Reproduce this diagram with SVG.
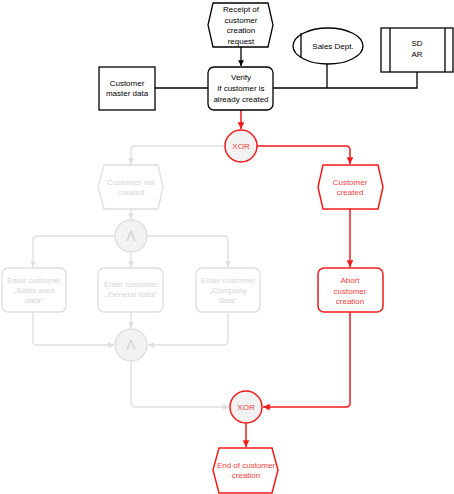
<svg xmlns="http://www.w3.org/2000/svg" width="454" height="494" viewBox="0 0 454 494">
<style>
text{font-family:"Liberation Sans",Arial,sans-serif;font-size:8px;text-anchor:middle}
.k{fill:#fff;stroke:#000;stroke-width:1.3}
.kl{fill:none;stroke:#000;stroke-width:1.3}
.r{fill:#fff;stroke:#f21b1b;stroke-width:1.5}
.rl{fill:none;stroke:#f21b1b;stroke-width:1.5}
.g{fill:#fff;stroke:#dedede;stroke-width:1.3}
.gl{fill:none;stroke:#dedede;stroke-width:1.3}
.tk{fill:#000}
.tr{fill:#f24040}
.tg{fill:#d6d6d6}
.and{font-size:14px;fill:#d0d0d0}
</style>
<defs>
<marker id="ak" viewBox="0 0 10 10" refX="10" refY="5" markerWidth="4.5" markerHeight="4.5" orient="auto"><path d="M0,0 L10,5 L0,10 z" fill="#000"/></marker>
<marker id="ar" viewBox="0 0 10 10" refX="10" refY="5" markerWidth="4.5" markerHeight="4.5" orient="auto"><path d="M0,0 L10,5 L0,10 z" fill="#f21b1b"/></marker>
<marker id="ag" viewBox="0 0 10 10" refX="10" refY="5" markerWidth="4.5" markerHeight="4.5" orient="auto"><path d="M0,0 L10,5 L0,10 z" fill="#dedede"/></marker>
</defs>
<g id="connectors">
<path class="kl" d="M241,47 V66" marker-end="url(#ak)"/>
<path class="kl" d="M155,88 H208"/>
<path class="kl" d="M273,88 H417 V72"/>
<path class="kl" d="M327,88 V64"/>
<path class="rl" d="M241,110 V129" marker-end="url(#ar)"/>
<path class="gl" d="M225,146 H135 Q131,146 131,150 V164" marker-end="url(#ag)"/>
<path class="rl" d="M257,146 H346 Q350,146 350,150 V164" marker-end="url(#ar)"/>
<path class="gl" d="M131,209 V219" marker-end="url(#ag)"/>
<path class="gl" d="M115,236 H37 Q33,236 33,240 V267" marker-end="url(#ag)"/>
<path class="gl" d="M147,236 H224 Q228,236 228,240 V267" marker-end="url(#ag)"/>
<path class="gl" d="M131,252 V267" marker-end="url(#ag)"/>
<path class="gl" d="M33,312 V341 Q33,345 37,345 H114" marker-end="url(#ag)"/>
<path class="gl" d="M228,312 V341 Q228,345 224,345 H148" marker-end="url(#ag)"/>
<path class="gl" d="M131,312 V328" marker-end="url(#ag)"/>
<path class="gl" d="M131,361 V403 Q131,407 135,407 H229" marker-end="url(#ag)"/>
<path class="rl" d="M350,209 V267" marker-end="url(#ar)"/>
<path class="rl" d="M350,312 V403 Q350,407 346,407 H263" marker-end="url(#ar)"/>
<path class="rl" d="M246,423 V447" marker-end="url(#ar)"/>
</g>
<g id="receipt">
<polygon class="k" points="213,3 268,3 273,25 268,47 213,47 208,25"/>
<text class="tk" x="241" y="12">Receipt of</text>
<text class="tk" x="241" y="22.5">customer</text>
<text class="tk" x="241" y="33">creation</text>
<text class="tk" x="241" y="43.5">request</text>
</g>
<g id="master">
<rect class="k" x="99" y="67" width="56" height="43"/>
<text class="tk" x="127" y="86">Customer</text>
<text class="tk" x="127" y="96">master data</text>
</g>
<g id="verify">
<rect class="k" x="208" y="67" width="65" height="43" rx="6"/>
<text class="tk" x="241" y="80">Verify</text>
<text class="tk" x="241" y="91">if customer is</text>
<text class="tk" x="241" y="102">already created</text>
</g>
<g id="sales">
<ellipse class="k" cx="328" cy="46" rx="35" ry="18"/>
<path class="kl" d="M301,33 V58"/>
<text class="tk" x="333" y="49">Sales Dept.</text>
</g>
<g id="sdar">
<rect class="k" x="381" y="28" width="72" height="44"/>
<path class="kl" d="M390,28 V72 M445,28 V72"/>
<text class="tk" x="417" y="46">SD</text>
<text class="tk" x="417" y="57">AR</text>
</g>
<g id="xor1">
<circle class="r" cx="241" cy="146" r="16" style="fill:#f2f2f2"/>
<text class="tr" x="241" y="149">XOR</text>
</g>
<g id="notcreated">
<polygon class="g" points="104,165 158,165 163,187 158,209 104,209 98,187"/>
<text class="tg" x="131" y="185">Customer not</text>
<text class="tg" x="131" y="195">created</text>
</g>
<g id="created">
<polygon class="r" points="323,165 378,165 383,187 378,209 323,209 318,187"/>
<text class="tr" x="350" y="185">Customer</text>
<text class="tr" x="350" y="195">created</text>
</g>
<g id="and1">
<circle class="g" cx="131" cy="236" r="16" style="fill:#f2f2f2"/>
<text class="and" x="131" y="241">Λ</text>
</g>
<g id="sales-area">
<rect class="g" x="2" y="268" width="64" height="44" rx="6"/>
<text class="tg" x="34" y="283">Enter customer</text>
<text class="tg" x="34" y="293">„Sales area</text>
<text class="tg" x="34" y="303">data“</text>
</g>
<g id="general">
<rect class="g" x="98" y="268" width="65" height="44" rx="6"/>
<text class="tg" x="131" y="287">Enter customer</text>
<text class="tg" x="131" y="297">„General data“</text>
</g>
<g id="company">
<rect class="g" x="196" y="268" width="64" height="44" rx="6"/>
<text class="tg" x="228" y="283">Enter customer</text>
<text class="tg" x="228" y="293">„Company</text>
<text class="tg" x="228" y="303">data“</text>
</g>
<g id="and2">
<circle class="g" cx="131" cy="345" r="16" style="fill:#f2f2f2"/>
<text class="and" x="131" y="350">Λ</text>
</g>
<g id="abort">
<rect class="r" x="318" y="268" width="65" height="44" rx="6"/>
<text class="tr" x="350" y="283">Abort</text>
<text class="tr" x="350" y="293.5">customer</text>
<text class="tr" x="350" y="304">creation</text>
</g>
<g id="xor2">
<circle class="r" cx="246" cy="407" r="16" style="fill:#f2f2f2"/>
<text class="tr" x="246" y="410">XOR</text>
</g>
<g id="end">
<polygon class="r" points="219,448 272,448 278,470 272,493 219,493 213,470"/>
<text class="tr" x="246" y="468">End of customer</text>
<text class="tr" x="246" y="478">creation</text>
</g>
</svg>
